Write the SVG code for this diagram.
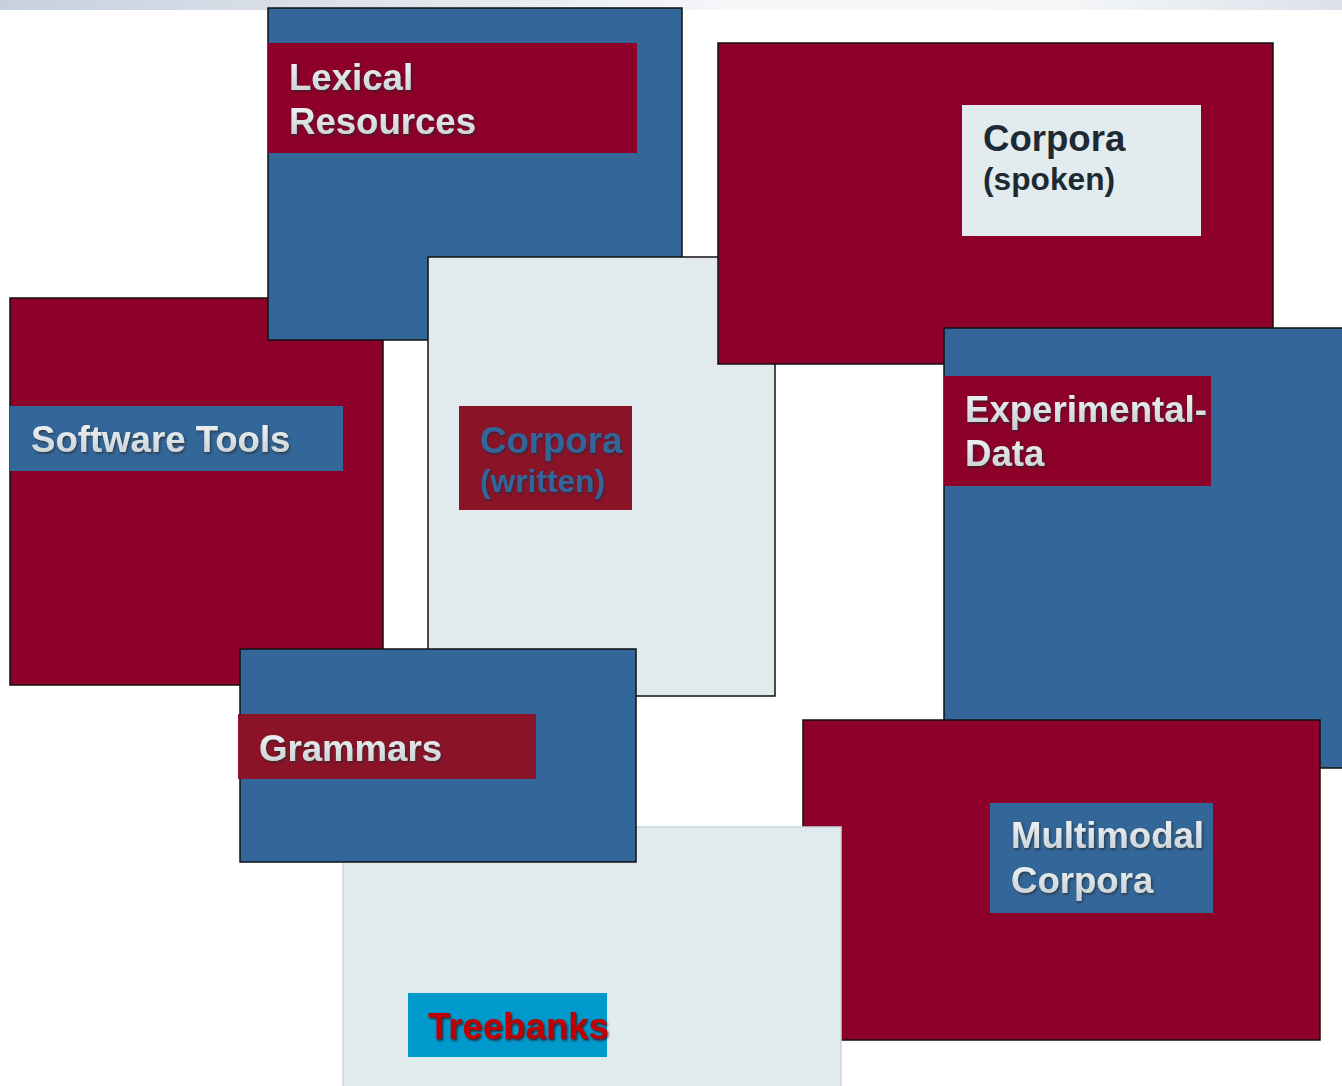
<svg xmlns="http://www.w3.org/2000/svg" width="1342" height="1086" viewBox="0 0 1342 1086">
<defs>
<linearGradient id="topbar" x1="0" y1="0" x2="1" y2="0">
<stop offset="0" stop-color="#c6d0de"/>
<stop offset="0.55" stop-color="#f6f7f9"/>
<stop offset="0.8" stop-color="#f4f6f8"/>
<stop offset="1" stop-color="#dce1ea"/>
</linearGradient>
<linearGradient id="silver" x1="0" y1="0" x2="0" y2="1">
<stop offset="0" stop-color="#f3f6f7"/>
<stop offset="1" stop-color="#c4ced3"/>
</linearGradient>
<filter id="sh" x="-10%" y="-20%" width="120%" height="150%">
<feDropShadow dx="1.2" dy="1.6" stdDeviation="0.8" flood-color="#2a2a2a" flood-opacity="0.75"/>
</filter>
<filter id="shb" x="-10%" y="-20%" width="120%" height="150%">
<feDropShadow dx="1" dy="1.4" stdDeviation="0.8" flood-color="#1a2a40" flood-opacity="0.8"/>
</filter>
<filter id="shr" x="-10%" y="-20%" width="120%" height="150%">
<feDropShadow dx="1.2" dy="1.6" stdDeviation="0.8" flood-color="#3a0000" flood-opacity="0.8"/>
</filter>
</defs>
<style>
.box{stroke:#111;stroke-width:1.5}
.red{fill:#8c0029}
.blue{fill:#336699}
.light{fill:#e1eaed}
.lbl{font-family:"Liberation Sans",Arial,sans-serif;font-weight:bold;font-size:36.6px}
.sil{fill:url(#silver);filter:url(#sh)}
.sm{font-size:31.7px}
</style>
<rect x="0" y="0" width="1342" height="10" fill="url(#topbar)"/>

<g id="software-tools">
<rect class="box red" x="10" y="298" width="373" height="387"/>
<rect class="blue" x="10" y="406" width="333" height="65"/>
<text class="lbl sil" x="31" y="452">Software Tools</text>
</g>

<g id="lexical-resources">
<rect class="box blue" x="268" y="8" width="414" height="332"/>
<rect class="red" x="268" y="43" width="369" height="110"/>
<text class="lbl sil" x="289" y="90">Lexical</text>
<text class="lbl sil" x="289" y="134">Resources</text>
</g>

<g id="corpora-written">
<rect class="box light" x="428" y="257" width="347" height="439" stroke-width="1.2"/>
<rect x="459" y="406" width="173" height="104" fill="#8b1328"/>
<text class="lbl" x="480" y="453" fill="#336699" filter="url(#shb)">Corpora</text>
<text class="lbl sm" x="480" y="492" fill="#336699" filter="url(#shb)">(written)</text>
</g>

<g id="corpora-spoken">
<rect class="box red" x="718" y="43" width="555" height="321"/>
<rect x="962" y="105" width="239" height="131" fill="#e2ecef"/>
<text class="lbl" x="983" y="151" fill="#1e2a33">Corpora</text>
<text class="lbl sm" x="983" y="190" fill="#1e2a33">(spoken)</text>
</g>

<g id="experimental-data">
<rect class="box blue" x="944" y="328" width="400" height="440"/>
<rect class="red" x="944" y="376" width="267" height="110"/>
<text class="lbl sil" x="965" y="422">Experimental-</text>
<text class="lbl sil" x="965" y="466">Data</text>
</g>

<g id="multimodal-corpora">
<rect class="box red" x="803" y="720" width="517" height="320"/>
<rect class="blue" x="990" y="803" width="223" height="110"/>
<text class="lbl sil" x="1011" y="848">Multimodal</text>
<text class="lbl sil" x="1011" y="893">Corpora</text>
</g>

<g id="treebanks">
<rect class="light" x="343" y="827" width="498" height="262" stroke="#c5d8dd" stroke-width="1.5"/>
<rect x="408" y="993" width="199" height="64" fill="#0099cc"/>
<text class="lbl" x="428" y="1039" fill="#c00000" filter="url(#shr)">Treebanks</text>
</g>

<g id="grammars">
<rect class="box blue" x="240" y="649" width="396" height="213"/>
<rect x="238" y="714" width="298" height="65" fill="#8b1328"/>
<text class="lbl sil" x="259" y="761">Grammars</text>
</g>

<g id="connectors"></g>
</svg>
